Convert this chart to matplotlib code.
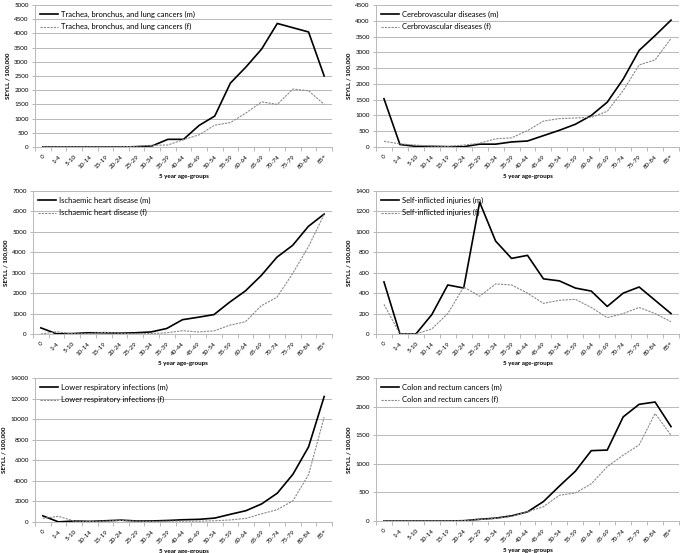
import matplotlib
matplotlib.use('Agg')
import matplotlib.pyplot as plt
import numpy as np

plt.rcParams['font.family'] = ['Lato', 'DejaVu Sans']

ages = ['0', '1-4', '5-10', '10-14', '15-19', '20-24', '25-29', '30-34', '35-39',
        '40-44', '45-49', '50-54', '55-59', '60-64', '65-69', '70-74', '75-79',
        '80-84', '85+']

# trachea, bronchus, lung cancers
lung_m = [0, 0, 0, 0, 0, 0, 10, 40, 270, 270, 760, 1090, 2250, 2820, 3450, 4350, 4200, 4050, 2500]
lung_f = [0, 0, 0, 0, 0, 0, 30, 60, 70, 260, 430, 770, 860, 1200, 1590, 1500, 2040, 1980, 1500]
# cerebrovascular
cere_m = [1530, 80, 20, 20, 10, 10, 90, 90, 160, 190, 360, 530, 720, 1000, 1420, 2150, 3060, 3530, 4020]
cere_f = [180, 100, 60, 30, 20, 60, 120, 260, 290, 520, 820, 900, 920, 940, 1130, 1790, 2600, 2760, 3440]
# ischaemic heart disease
ihd_m = [300, 10, 20, 60, 60, 40, 60, 100, 270, 700, 820, 950, 1560, 2110, 2860, 3760, 4340, 5270, 5870]
ihd_f = [0, 110, 10, 20, 80, 30, 20, 20, 60, 160, 100, 150, 430, 600, 1380, 1800, 2960, 4270, 5850]
# self-inflicted injuries
self_m = [510, 0, 0, 190, 480, 450, 1290, 910, 740, 770, 540, 520, 450, 420, 270, 400, 460, 330, 200]
self_f = [290, 0, 0, 50, 200, 460, 370, 490, 480, 400, 300, 330, 340, 260, 160, 200, 260, 200, 120]
# lower respiratory infections
lri_m = [600, 10, 100, 60, 120, 180, 100, 100, 150, 220, 260, 380, 750, 1100, 1760, 2800, 4640, 7300, 12200]
lri_f = [350, 550, 100, 50, 80, 150, 80, 50, 80, 80, 80, 120, 200, 350, 800, 1200, 2060, 4600, 10200]
# colon and rectum cancers
colon_m = [0, 0, 0, 0, 0, 5, 30, 50, 90, 160, 340, 610, 870, 1230, 1240, 1820, 2040, 2080, 1650]
colon_f = [0, 0, 0, 0, 0, 5, 25, 45, 80, 160, 250, 450, 490, 650, 950, 1150, 1330, 1880, 1500]

panels = [
    (lung_m, lung_f, 'Trachea, bronchus, and lung cancers (m)', 'Trachea, bronchus, and lung cancers (f)', 5000, 500),
    (cere_m, cere_f, 'Cerebrovascular diseases (m)', 'Cerbrovascular diseases (f)', 4500, 500),
    (ihd_m, ihd_f, 'Ischaemic heart disease (m)', 'Ischaemic heart disease (f)', 7000, 1000),
    (self_m, self_f, 'Self-inflicted injuries (m)', 'Self-inflicted injuries (f)', 1400, 200),
    (lri_m, lri_f, 'Lower respiratory infections (m)', 'Lower respiratory infections (f)', 14000, 2000),
    (colon_m, colon_f, 'Colon and rectum cancers (m)', 'Colon and rectum cancers (f)', 2500, 500),
]

W, H = 685, 553
fig = plt.figure(figsize=(W / 100, H / 100), dpi=100)

# axes boxes in pixels: left, right, top, bottom
boxes = [
    (35, 332, 5, 147), (376, 679, 5, 147),
    (33, 332, 191, 334), (376, 679, 191, 334),
    (35, 332, 378, 522), (376, 679, 378, 521),
]

x = np.arange(len(ages))
grid_c = '#b8b8b8'
for (m, f, lm, lf, ymax, step), (l, r, t, b) in zip(panels, boxes):
    ax = fig.add_axes([l / W, 1 - b / H, (r - l) / W, (b - t) / H])
    ax.plot(x, m, color='black', lw=1.2, label=lm)
    ax.plot(x, f, color='#8a8a8a', lw=0.8, ls=(0, (2, 1)), label=lf)
    ax.set_xlim(-0.5, len(ages) - 0.5)
    ax.set_ylim(0, ymax)
    ax.set_yticks(np.arange(0, ymax + 1, step))
    ax.yaxis.grid(True, color=grid_c, lw=0.7)
    ax.set_axisbelow(True)
    ax.set_xticks(x)
    ax.set_xticklabels(ages, rotation=45, ha='right', va='top', rotation_mode='anchor', fontsize=4.5)
    ax.set_xticks(np.arange(-0.5, len(ages), 1), minor=True)
    ax.tick_params(axis='x', which='major', length=0, pad=5)
    ax.tick_params(axis='x', which='minor', length=3, color=grid_c, width=0.7)
    ax.tick_params(axis='y', length=2.5, color=grid_c, width=0.7, labelsize=4.5, pad=2)
    for s in ['top', 'right']:
        ax.spines[s].set_visible(False)
    for s in ['left', 'bottom']:
        ax.spines[s].set_color(grid_c)
        ax.spines[s].set_linewidth(0.7)
    ax.set_ylabel('SEYLL / 100,000', fontsize=4.5, fontweight='bold', labelpad=3)
    ax.set_xlabel('5 year age-groups', fontsize=4.5, fontweight='bold', labelpad=3)
    ax.legend(loc='upper left', frameon=False, fontsize=5.5, handlelength=2.3,
              borderaxespad=0.3, labelspacing=0.75, handletextpad=0.4)

fig.savefig('out.png', dpi=100)
